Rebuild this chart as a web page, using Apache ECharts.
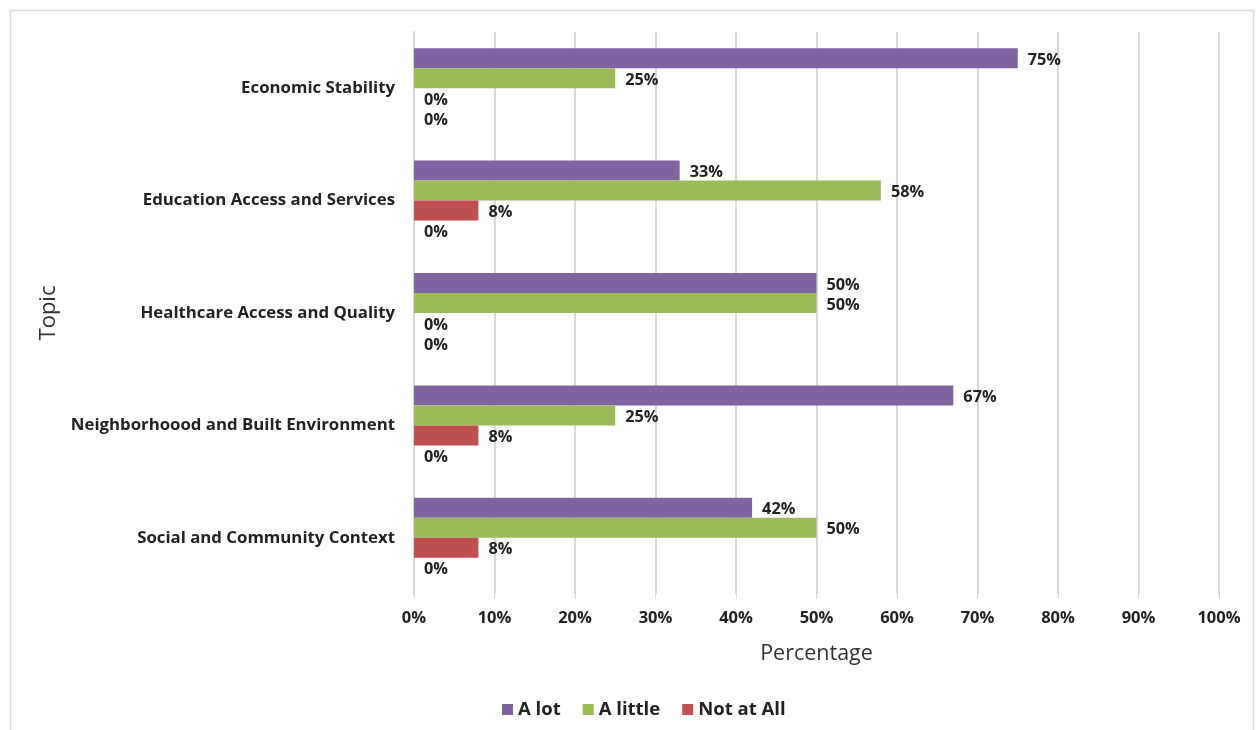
<!DOCTYPE html>
<html>
<head>
<meta charset="utf-8">
<script src="https://cdn.jsdelivr.net/npm/echarts@6/dist/echarts.min.js"></script>
<style>
html,body{margin:0;padding:0;background:#fff;}
#c{width:1257px;height:730px;}
</style>
</head>
<body>
<div id="c"></div>
<script>
const categories = ["Economic Stability","Education Access and Services","Healthcare Access and Quality","Neighborhoood and Built Environment","Social and Community Context"];
const aLot = [75, 33, 50, 67, 42];
const aLittle = [25, 58, 50, 25, 50];
const notAtAll = [0, 8, 0, 8, 8];
const unnamed = [0, 0, 0, 0, 0];
const xTicks = [0,10,20,30,40,50,60,70,80,90,100];

const FONT = '"Open Sans", "Liberation Sans", sans-serif';
const chart = echarts.init(document.getElementById('c'));
const lbl = {show:true, position:'right', distance:10, offset:[0,2], formatter:'{c}%', color:'#222', fontWeight:'bold', fontSize:16.3, fontFamily:FONT};
function bar(name, data, color){
  return {name:name, type:'bar', data:data, barWidth:20, barGap:'0%', barCategoryGap:'29%',
    itemStyle:{color:color}, label:lbl, emphasis:{disabled:true}};
}
chart.setOption({
  animation:false,
  textStyle:{fontFamily:FONT},
  graphic:[{type:'rect', shape:{x:10.5,y:10.5,width:1243,height:730}, style:{fill:null, stroke:'#d9d9d9', lineWidth:1.5}, silent:true}],
  grid:{left:414, right:38, top:32, bottom:136},
  legend:{data:['A lot','A little','Not at All'], bottom:6, left:497, itemWidth:11, itemHeight:11, itemGap:22, icon:'rect',
    textStyle:{fontSize:18.5, fontWeight:'bold', color:'#222', fontFamily:FONT}},
  xAxis:{type:'value', min:0, max:100, interval:10,
    name:'Percentage', nameLocation:'middle', nameGap:49, nameTextStyle:{fontSize:21.5, color:'#333', fontFamily:FONT},
    axisLabel:{formatter:function(v){return xTicks.indexOf(v)>=0? v+'%':'';}, color:'#222', fontWeight:'bold', fontSize:16.5, margin:16, fontFamily:FONT},
    axisTick:{show:true, length:5, lineStyle:{color:'#d9d9d9'}},
    axisLine:{show:false},
    splitLine:{show:true, lineStyle:{color:'#d9d9d9', width:2}}},
  yAxis:{type:'category', data:categories, inverse:true,
    name:'Topic', nameLocation:'middle', nameGap:352, nameRotate:90, nameTextStyle:{fontSize:22, color:'#333', fontFamily:FONT},
    axisTick:{show:false}, axisLine:{show:true, lineStyle:{color:'#d9d9d9', width:2}},
    axisLabel:{color:'#222', fontWeight:'bold', fontSize:16.8, margin:19, fontFamily:FONT}},
  series:[
    bar('A lot', aLot, '#8064A2'),
    bar('A little', aLittle, '#9BBB59'),
    bar('Not at All', notAtAll, '#C0504D'),
    bar('Series 4', unnamed, '#4BACC6')
  ]
});
</script>
</body>
</html>
